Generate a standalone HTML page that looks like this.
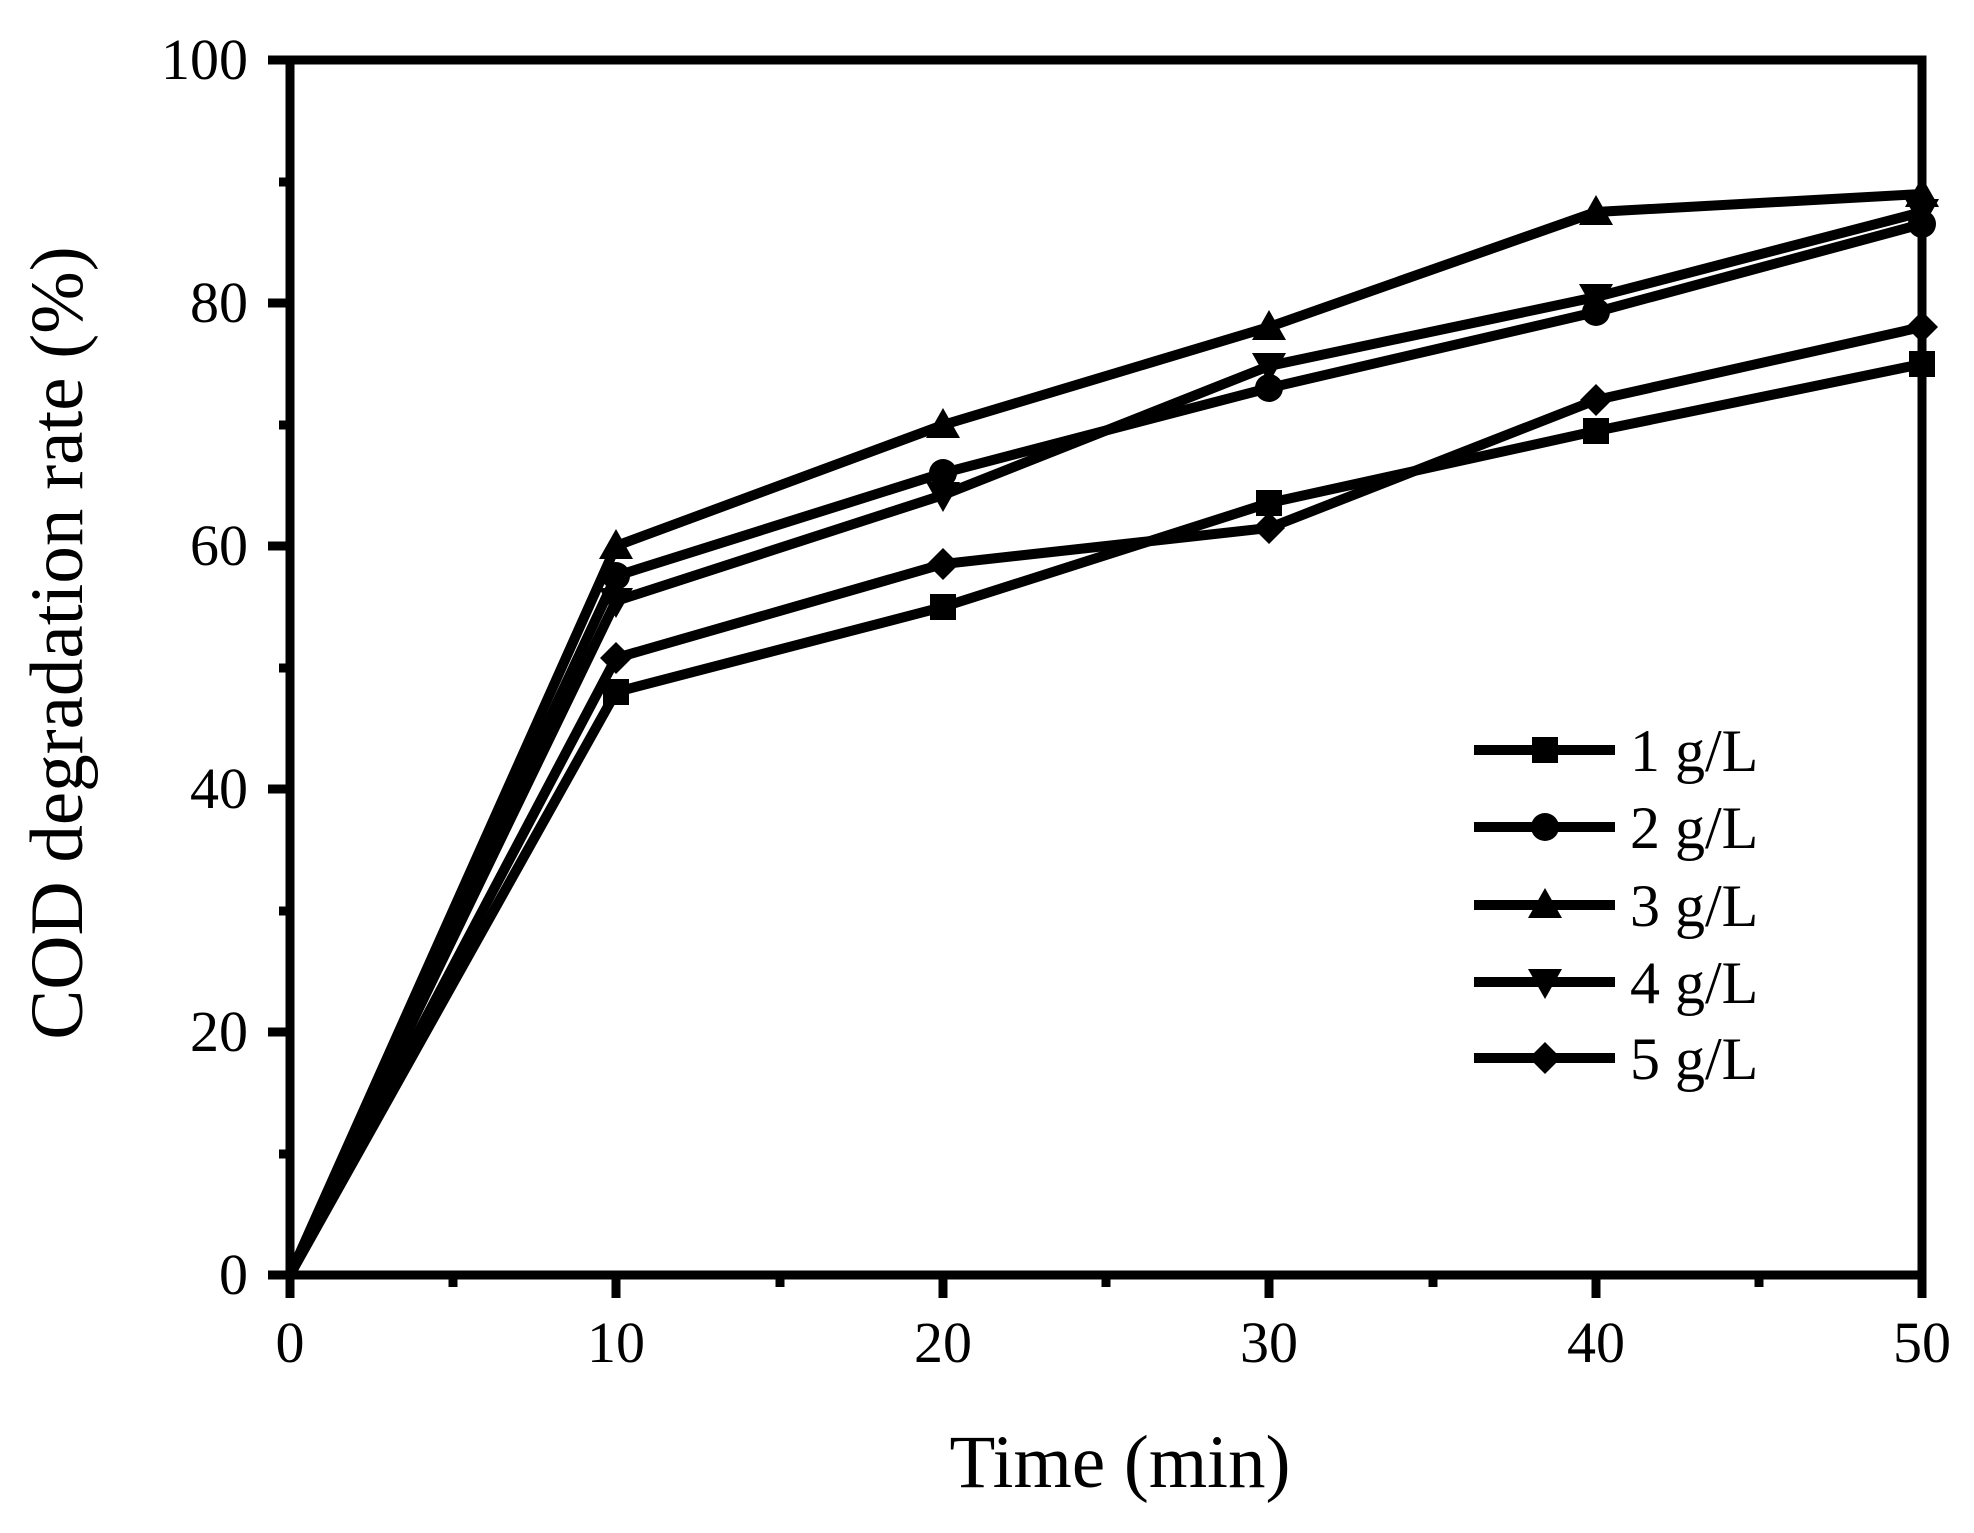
<!DOCTYPE html>
<html><head><meta charset="utf-8"><style>html,body{margin:0;padding:0;background:#fff}svg{display:block}</style></head>
<body>
<svg width="1974" height="1533" viewBox="0 0 1974 1533" xmlns="http://www.w3.org/2000/svg" font-family="Liberation Serif, serif">
<defs>
<g id="sq"><rect x="-13" y="-13" width="26" height="26" fill="#000"/></g>
<g id="ci"><circle r="14" fill="#000"/></g>
<g id="tu"><polygon points="0,-17 17,13 -17,13" fill="#000"/></g>
<g id="td"><polygon points="0,17 17,-13 -17,-13" fill="#000"/></g>
<g id="di"><polygon points="0,-16 16,0 0,16 -16,0" fill="#000"/></g>
</defs>
<g stroke="#000" stroke-width="10" fill="none" stroke-linejoin="miter">
<!-- series: x = 290 + t*32.64 ; y = 1275 - v*12.15 -->
<polyline points="290,1275 616,692 943,607 1269,503 1596,431 1922,364"/>
<polyline points="290,1275 616,576 943,473 1269,388 1596,312 1922,224"/>
<polyline points="290,1275 616,546 943,425 1269,327 1596,212 1922,194"/>
<polyline points="290,1275 616,601 943,495 1269,366 1596,297 1922,212"/>
<polyline points="290,1275 616,658 943,564 1269,528 1596,400 1922,327"/>
</g>
<g>
<use href="#sq" x="616" y="692"/><use href="#sq" x="943" y="607"/><use href="#sq" x="1269" y="503"/><use href="#sq" x="1596" y="431"/><use href="#sq" x="1922" y="364"/>
<use href="#ci" x="616" y="576"/><use href="#ci" x="943" y="473"/><use href="#ci" x="1269" y="388"/><use href="#ci" x="1596" y="312"/><use href="#ci" x="1922" y="224"/>
<use href="#tu" x="616" y="546"/><use href="#tu" x="943" y="425"/><use href="#tu" x="1269" y="327"/><use href="#tu" x="1596" y="212"/><use href="#tu" x="1922" y="194"/>
<use href="#td" x="616" y="601"/><use href="#td" x="943" y="495"/><use href="#td" x="1269" y="366"/><use href="#td" x="1596" y="297"/><use href="#td" x="1922" y="212"/>
<use href="#di" x="616" y="658"/><use href="#di" x="943" y="564"/><use href="#di" x="1269" y="528"/><use href="#di" x="1596" y="400"/><use href="#di" x="1922" y="327"/>
</g>
<!-- axes frame -->
<rect x="290" y="60" width="1632" height="1215" fill="none" stroke="#000" stroke-width="9"/>
<g stroke="#000" stroke-width="9">
<line x1="268" y1="60" x2="290" y2="60"/><line x1="268" y1="303" x2="290" y2="303"/><line x1="268" y1="546" x2="290" y2="546"/><line x1="268" y1="789" x2="290" y2="789"/><line x1="268" y1="1032" x2="290" y2="1032"/><line x1="268" y1="1275" x2="290" y2="1275"/>
<line x1="279" y1="182" x2="290" y2="182"/><line x1="279" y1="425" x2="290" y2="425"/><line x1="279" y1="668" x2="290" y2="668"/><line x1="279" y1="911" x2="290" y2="911"/><line x1="279" y1="1154" x2="290" y2="1154"/>
<line x1="290" y1="1275" x2="290" y2="1298"/><line x1="616" y1="1275" x2="616" y2="1298"/><line x1="943" y1="1275" x2="943" y2="1298"/><line x1="1269" y1="1275" x2="1269" y2="1298"/><line x1="1596" y1="1275" x2="1596" y2="1298"/><line x1="1922" y1="1275" x2="1922" y2="1298"/>
<line x1="453" y1="1275" x2="453" y2="1287"/><line x1="780" y1="1275" x2="780" y2="1287"/><line x1="1106" y1="1275" x2="1106" y2="1287"/><line x1="1433" y1="1275" x2="1433" y2="1287"/><line x1="1759" y1="1275" x2="1759" y2="1287"/>
</g>
<g font-size="58" text-anchor="end" fill="#000">
<text x="248" y="79">100</text><text x="248" y="322">80</text><text x="248" y="565">60</text><text x="248" y="808">40</text><text x="248" y="1051">20</text><text x="248" y="1294">0</text>
</g>
<g font-size="58" text-anchor="middle" fill="#000">
<text x="290" y="1362">0</text><text x="616" y="1362">10</text><text x="943" y="1362">20</text><text x="1269" y="1362">30</text><text x="1596" y="1362">40</text><text x="1922" y="1362">50</text>
</g>
<text x="1120" y="1487" font-size="75" text-anchor="middle">Time (min)</text>
<text transform="translate(82,643) rotate(-90)" font-size="75" text-anchor="middle">COD degradation rate (%)</text>
<!-- legend -->
<g stroke="#000" stroke-width="10">
<line x1="1474" y1="750" x2="1615" y2="750"/><line x1="1474" y1="827" x2="1615" y2="827"/><line x1="1474" y1="905" x2="1615" y2="905"/><line x1="1474" y1="982" x2="1615" y2="982"/><line x1="1474" y1="1058" x2="1615" y2="1058"/>
</g>
<use href="#sq" x="1545" y="750"/><use href="#ci" x="1545" y="827"/><use href="#tu" x="1545" y="905"/><use href="#td" x="1545" y="982"/><use href="#di" x="1545" y="1058"/>
<g font-size="60" fill="#000">
<text x="1630" y="771">1 g/L</text><text x="1630" y="848">2 g/L</text><text x="1630" y="926">3 g/L</text><text x="1630" y="1003">4 g/L</text><text x="1630" y="1079">5 g/L</text>
</g>
</svg>
</body></html>
